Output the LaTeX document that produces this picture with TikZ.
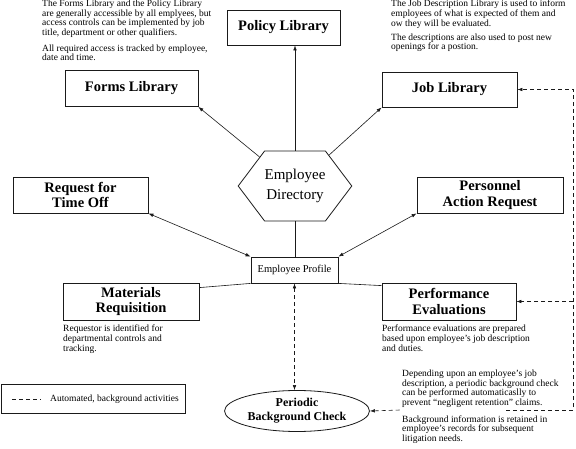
\documentclass[tikz,border=0pt]{standalone}
\usepackage{fontspec}
\setmainfont{Liberation Serif}
\usetikzlibrary{arrows.meta,shapes.geometric,shapes.symbols}
\definecolor{ink}{HTML}{1A1A1A}
\tikzset{
  >={Latex[length=5pt,width=3.6pt]},
  link/.style={draw=ink,line width=.6pt},
  flow/.style={link,->},
  dflow/.style={link,<->},
  autoflow/.style={link,dash pattern=on 4pt off 3pt},
  box/.style={draw=ink,line width=.8pt,fill=white,align=center,inner sep=2pt,
              font=\fontsize{14.5}{15.5}\selectfont\bfseries},
  hexa/.style={signal,signal to=east and west,signal pointer angle=106,draw=ink,line width=.8pt,
               fill=white,minimum width=104pt,minimum height=70pt,align=center,inner sep=0pt,
               font=\fontsize{15}{20}\selectfont},
  oval/.style={ellipse,draw=ink,line width=.8pt,fill=white,minimum width=145pt,minimum height=41pt,
               inner sep=0pt,align=center,font=\fontsize{12}{14}\selectfont\bfseries},
  note/.style={anchor=north west,align=left,inner sep=0pt,font=\fontsize{9.5}{9.6}\selectfont}
}
\begin{document}
\begin{tikzpicture}[x=1pt,y=-1pt]
  \useasboundingbox[fill=white] (0,0) rectangle (576,449);
  % Notes
  \node[note] (formsnote) at (42,0) {The Forms Library and the Policy Library\\
    are generally accessible by all emplyees, but\\access controls can be implemented by job\\
    title, department or other qualifiers.\\[6pt]All required access is tracked by employee,\\date and time.};
  \node[note] (jobnote) at (391,0) {The Job Description Library is used to inform\\
    employees of what is expected of them and\\ow they will be evaluated.\\[4.5pt]
    The descriptions are also used to post new\\openings for a postion.};
  \node[note] (matnote) at (63,325) {Requestor is identified for\\departmental controls and\\tracking.};
  \node[note] (perfnote) at (382,325) {Performance evaluations are prepared\\
    based upon employee's job description\\and duties.};
  \node[note] (checknote) at (402,370) {Depending upon an employee's job\\
    description, a periodic background check\\can be performed automaticaslly to\\
    prevent ``negligent retention'' claims.\\[7pt]Background information is retained in\\
    employee's records for subsequent\\litigation needs.};

  % Boxes
  \node[box,minimum width=113pt,minimum height=35pt] (policy) at (283.5,27.5) {Policy Library};
  \node[box,minimum width=133pt,minimum height=36pt] (forms) at (131.5,88.5) {Forms Library};
  \node[box,minimum width=135pt,minimum height=35pt] (job) at (449.5,89.5) {Job Library};
  \node[hexa] (dir) at (295,186) {Employee\\Directory};
  \node[box,minimum width=135pt,minimum height=36pt] (request) at (80.5,195) {Request for\\Time Off};
  \node[box,minimum width=146pt,minimum height=36pt] (personnel) at (490,195) {Personnel\\Action Request};
  \node[box,minimum width=87pt,minimum height=26pt,font=\fontsize{10.5}{12}\selectfont] (profile) at (294.5,270) {Employee Profile};
  \node[box,minimum width=136pt,minimum height=37pt] (materials) at (131,301.5) {Materials\\Requisition};
  \node[box,minimum width=134pt,minimum height=37pt] (performance) at (449,301.5) {Performance\\Evaluations};
  \node[oval] (check) at (297,411) {Periodic\\Background Check};

  % Links
  \draw[flow] (dir.north) -- (dir.north |- policy.south);
  \draw[flow] (dir) -- (forms.south east);
  \draw[flow] (dir) -- (job.south west);
  \draw[link] (dir.south) -- (dir.south |- profile.north);
  \draw[dflow] (profile.north west) -- (request.south east);
  \draw[dflow] (profile.north east) -- (personnel.south west);
  \draw[link] (profile.south west) -- ([yshift=-5pt]materials.north east);
  \draw[link] (profile.south east) -- ([yshift=-3pt]performance.north west);

  % Automated
  \coordinate (gapl) at (400,410);
  \coordinate (gapr) at (506,410);
  \coordinate (trunkb) at (573,410);
  \draw[autoflow,<->] (profile.south) -- (profile.south |- check.north);
  \draw[autoflow,<-] (check.east) -- (gapl);
  \draw[autoflow,->] (gapr) -- (trunkb) |- (job.east);
  \draw[autoflow,->] (trunkb |- performance.east) -- (performance.east);

  % Legend
  \node[draw=ink,line width=.8pt,minimum width=184pt,minimum height=29pt,inner sep=0pt] (legend) at (92.9,398.5) {};
  \coordinate (keya) at (12,399);
  \coordinate (keyb) at (41,399);
  \draw[autoflow] (keya) -- (keyb);
  \node[anchor=west,inner sep=0pt,font=\fontsize{9.5}{10}\selectfont] (keytxt) at (50,399) {Automated, background activities};
\end{tikzpicture}
\end{document}
